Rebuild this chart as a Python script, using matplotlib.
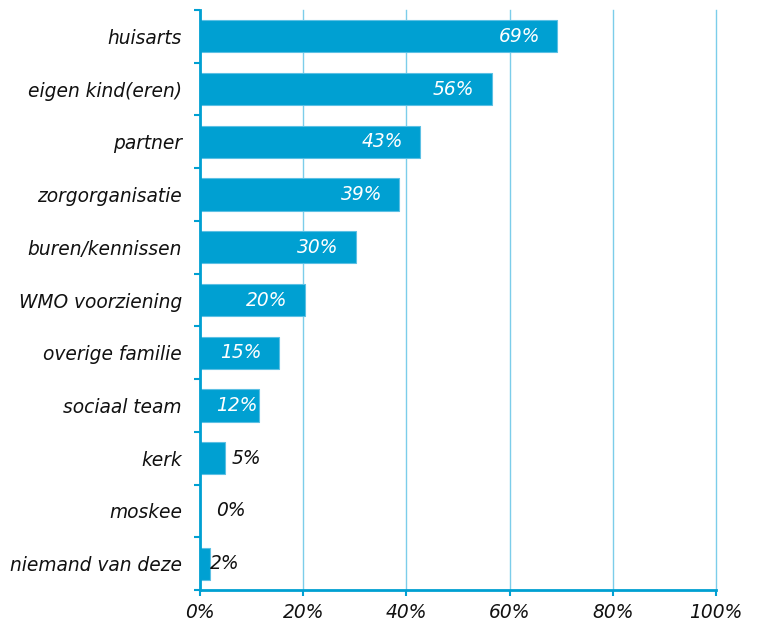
import matplotlib
matplotlib.use("Agg")
import matplotlib.pyplot as plt
from matplotlib.ticker import FixedLocator, PercentFormatter

# Data
categories = ["huisarts", "eigen kind(eren)", "partner", "zorgorganisatie",
              "buren/kennissen", "WMO voorziening", "overige familie",
              "sociaal team", "kerk", "moskee", "niemand van deze"]
values = [69.2, 56.5, 42.7, 38.6, 30.2, 20.3, 15.3, 11.5, 4.8, 0.0, 1.9]
labels = ["69%", "56%", "43%", "39%", "30%", "20%", "15%", "12%", "5%", "0%", "2%"]
x_ticks = [0, 20, 40, 60, 80, 100]

# labels outside the bar (small values), extra gap after bar end in %
outside_gap = {"kerk": 1.4, "moskee": 3.2, "niemand van deze": 0.1}

barColor  = "#00A0D2"
edgeColor = "#5CC0E4"
gridColor = "#7CCDEA"
fontSize  = 13.4

plt.rcParams['font.family'] = ['DejaVu Sans']

fig = plt.figure(figsize=(7.63, 6.29), dpi=100)
ax = fig.add_axes([0.2621, 0.062, 0.9384 - 0.2621, 0.9841 - 0.062])

ypos = list(range(len(categories)))
ax.barh(ypos, values, height=0.61, color=barColor, edgecolor=edgeColor,
        linewidth=0.8, zorder=3)

ax.set_xlim(0, 100)
ax.set_ylim(len(categories) - 0.5, -0.5)

# value labels
for i in range(len(categories)):
    v = values[i]
    cat = categories[i]
    if cat in outside_gap:
        ax.text(v + outside_gap[cat], i, labels[i], ha="left", va="center",
                style="italic", fontsize=fontSize, color="#111111", zorder=4)
    elif v - 3.3 - 8.1 < 3.2:
        ax.text(3.2, i, labels[i], ha="left", va="center",
                style="italic", fontsize=fontSize, color="white", zorder=4)
    else:
        ax.text(v - 3.3, i, labels[i], ha="right", va="center",
                style="italic", fontsize=fontSize, color="white", zorder=4)

# axes styling
ax.xaxis.set_major_locator(FixedLocator(x_ticks))
ax.xaxis.set_major_formatter(PercentFormatter(decimals=0))
ax.grid(axis="x", color=gridColor, linewidth=1.0, zorder=0)
for gl in ax.get_xgridlines():
    gl.set_clip_on(False)
ax.set_yticks(ypos)
ax.set_yticklabels(categories)
ax.yaxis.set_minor_locator(FixedLocator([k - 0.5 for k in range(len(categories) + 1)]))

ax.tick_params(axis="y", which="major", length=0, pad=13)
ax.tick_params(axis="y", which="minor", length=4, width=1.5, color=barColor, direction="out")
ax.tick_params(axis="x", which="major", length=4, width=1.5, color=barColor,
               direction="out", pad=5)
for lbl in ax.get_yticklabels() + ax.get_xticklabels():
    lbl.set_fontstyle("italic")
    lbl.set_fontsize(fontSize)
    lbl.set_color("#111111")

for side in ["top", "right"]:
    ax.spines[side].set_visible(False)
for side in ["left", "bottom"]:
    ax.spines[side].set_color(barColor)
    ax.spines[side].set_linewidth(2)
    ax.spines[side].set_zorder(5)

plt.savefig("out.png", dpi=100)
print("Done")
